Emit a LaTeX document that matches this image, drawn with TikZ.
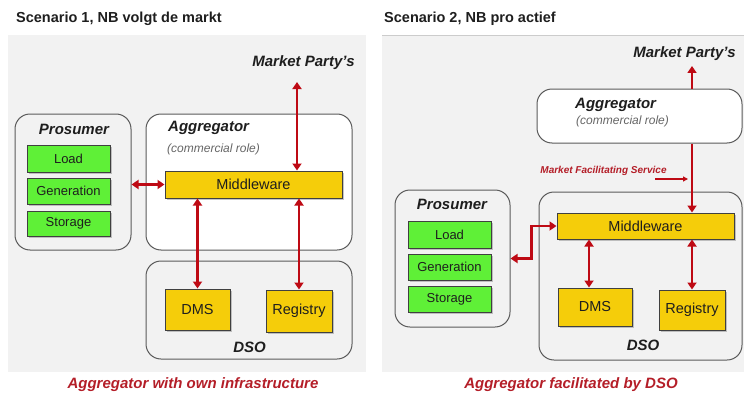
\documentclass[tikz,border=0pt]{standalone}
\usepackage{fontspec}
\setmainfont{Liberation Sans}
\usetikzlibrary{arrows.meta,shadows}
\definecolor{panelgray}{RGB}{242,242,242}
\definecolor{boxline}{RGB}{90,90,90}
\definecolor{gfill}{RGB}{95,240,55}
\definecolor{yfill}{RGB}{245,205,10}
\definecolor{arrred}{RGB}{190,10,20}
\definecolor{capred}{RGB}{180,30,40}
\definecolor{txt}{RGB}{30,30,30}
\tikzset{
  panel/.style={fill=panelgray, draw=none},
  rolebox/.style={draw=boxline, line width=1pt, rounded corners=15pt, inner sep=0pt},
  whitebox/.style={rolebox, fill=white},
  graybox/.style={rolebox, fill=panelgray},
  gbox/.style={draw=black!75, line width=1pt, fill=gfill, inner sep=0pt, text=txt,
    font=\fontsize{13}{15}\selectfont,
    drop shadow={shadow xshift=1.8pt, shadow yshift=-1.8pt, opacity=0.45}},
  ybox/.style={draw=black!75, line width=1pt, fill=yfill, inner sep=0pt, text=txt,
    font=\fontsize{14.5}{16}\selectfont,
    drop shadow={shadow xshift=1.8pt, shadow yshift=-1.8pt, opacity=0.45}},
  roletitle/.style={inner sep=0pt, text=txt, font=\fontsize{15}{17}\selectfont\bfseries\itshape},
  rolesub/.style={inner sep=0pt, text=black!60, font=\fontsize{12}{14}\selectfont\itshape},
  heading/.style={inner sep=0pt, text=txt, anchor=west, font=\fontsize{14.5}{17}\selectfont\bfseries},
  caption/.style={inner sep=0pt, text=capred, font=\fontsize{15}{17}\selectfont\bfseries\itshape},
  arr/.style={draw=arrred, line width=2.6pt, {Triangle[length=7pt,width=9pt]}-{Triangle[length=7pt,width=9pt]}},
  arrone/.style={draw=arrred, line width=2.6pt, -{Triangle[length=7pt,width=9pt]}},
  thinarr/.style={draw=arrred, line width=1.2pt, -{Triangle[length=5pt,width=5pt]}},
}
\begin{document}
\begin{tikzpicture}[x=1pt,y=-1pt]
\useasboundingbox (0,0) rectangle (744,396);
% ---------- panels ----------
\fill[panel] (8,35) rectangle (366,372);
\fill[panel] (382,35) rectangle (744,372);
\draw[black!20, line width=0.8pt] (382,35) -- (744,35);
\node[heading] (titleL) at (16,19) {Scenario 1, NB volgt de markt};
\node[heading] (titleR) at (384,19) {Scenario 2, NB pro actief};

% ================= Scenario 1 =================
\node[roletitle] (mpL) at (303.5,62.5) {Market Party's};
\node[graybox, minimum width=116pt, minimum height=136pt] (prosL) at (73,182) {};
\node[roletitle] (prosLt) at (74,129) {Prosumer};
\node[gbox, minimum width=83pt, minimum height=27pt] (loadL) at (68.5,158.5) {Load};
\node[gbox, minimum width=83pt, minimum height=26pt] (genL) at (68.5,191) {Generation};
\node[gbox, minimum width=83pt, minimum height=25pt] (stoL) at (68.5,223.5) {Storage};

\node[whitebox, minimum width=206pt, minimum height=136pt] (aggL) at (249,182) {};
\node[roletitle, anchor=west] (aggLt) at (168,128) {Aggregator};
\node[rolesub, anchor=west] (aggLs) at (167,149) {(commercial role)};
\node[ybox, minimum width=177pt, minimum height=27pt] (mwL) at (253.5,184.5) {Middleware};

\node[graybox, minimum width=206pt, minimum height=98pt] (dsoL) at (249,310) {};
\node[ybox, minimum width=65pt, minimum height=41pt] (dmsL) at (197.5,309.5) {DMS};
\node[ybox, minimum width=66pt, minimum height=42pt] (regL) at (299,311) {Registry};
\node[roletitle] (dsoLt) at (249.5,347) {DSO};

\coordinate (mpLend) at (297,82);
\draw[arr] (mpLend) -- (mpLend |- mwL.north);
\draw[arr] (prosL.east |- mwL.west) -- (mwL.west);
\draw[arr] (mwL.south -| dmsL.north) -- (dmsL.north);
\draw[arr] (mwL.south -| regL.north) -- (regL.north);

\node[caption] (capL) at (193,385) {Aggregator with own infrastructure};

% ================= Scenario 2 =================
\node[roletitle] (mpR) at (684.5,54) {Market Party's};
\node[whitebox, minimum width=205pt, minimum height=54pt] (aggR) at (639.5,116) {};
\node[roletitle, anchor=west] (aggRt) at (575,105) {Aggregator};
\node[rolesub, anchor=west] (aggRs) at (576,121.5) {(commercial role)};

\node[graybox, minimum width=115pt, minimum height=137pt] (prosR) at (452.5,258.5) {};
\node[roletitle] (prosRt) at (452,204) {Prosumer};
\node[gbox, minimum width=83pt, minimum height=27pt] (loadR) at (449.5,234.5) {Load};
\node[gbox, minimum width=83pt, minimum height=26pt] (genR) at (449.5,267) {Generation};
\node[gbox, minimum width=83pt, minimum height=26pt] (stoR) at (449.5,299) {Storage};

\node[graybox, minimum width=203pt, minimum height=168pt] (dsoR) at (640.5,276) {};
\node[ybox, minimum width=177pt, minimum height=26pt] (mwR) at (645.5,226) {Middleware};
\node[ybox, minimum width=74pt, minimum height=38pt] (dmsR) at (595,307) {DMS};
\node[ybox, minimum width=66pt, minimum height=40pt] (regR) at (692,310) {Registry};
\node[roletitle] (dsoRt) at (643,345) {DSO};

\coordinate (mpRend) at (692,66);
\draw[arrone] (aggR.north -| mpRend) -- (mpRend);
\draw[arrone] (aggR.south -| mpRend) -- (mpRend |- mwR.north);
\node[inner sep=0pt, text=capred, font=\fontsize{10}{12}\selectfont\bfseries\itshape] (mfs) at (603.5,171) {Market Facilitating Service};
\coordinate (mfsA) at (655,179);
\coordinate (mfsB) at (688,179);
\draw[thinarr] (mfsA) -- (mfsB);
\draw[arr] (prosR.east) -- ++(21,0) |- (mwR.west);
\coordinate (dmsRtop) at (589,0);
\draw[arr] (mwR.south -| dmsRtop) -- (dmsR.north -| dmsRtop);
\draw[arr] (mwR.south -| regR.north) -- (regR.north);

\node[caption] (capR) at (571,385) {Aggregator facilitated by DSO};
\end{tikzpicture}
\end{document}
